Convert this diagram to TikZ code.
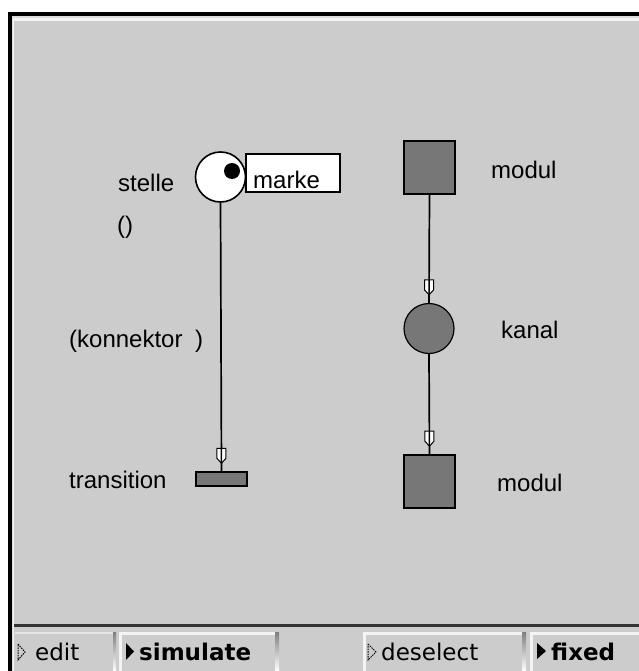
\documentclass[tikz,border=0pt]{standalone}
\usepackage{fontspec}
\setmainfont{Liberation Sans}
\newfontfamily\btnfont{DejaVu Sans}
\newfontfamily\btnboldfont{DejaVu Sans Bold}
\usetikzlibrary{decorations.markings}
\definecolor{panel}{HTML}{CCCCCC}
\definecolor{boxfill}{HTML}{777777}
\definecolor{hilite}{HTML}{F4F4F4}
\definecolor{edge}{HTML}{DCDCDC}
\definecolor{shade}{HTML}{222222}
\tikzset{
  lbl/.style={font=\fontsize{24}{24}\selectfont, inner sep=0pt, anchor=west},
  btnlbl/.style={font=\btnfont\fontsize{23}{23}\selectfont, inner sep=0pt, anchor=west},
  btnbold/.style={font=\btnboldfont\fontsize{23}{23}\selectfont, inner sep=0pt, anchor=west},
  opentri/.style={draw=black, line width=1pt, dash pattern=on 1.5pt off 1pt},
  filledtri/.style={fill=black},
  place/.style={circle, draw=black, line width=1.6pt, fill=white, minimum size=50pt, inner sep=0pt},
  channel/.style={circle, draw=black, line width=1.2pt, fill=boxfill, minimum size=50pt, inner sep=0pt},
  module/.style={rectangle, draw=black, line width=1.6pt, fill=boxfill, minimum width=51pt, minimum height=53pt, inner sep=0pt},
  trans/.style={rectangle, draw=black, line width=1.4pt, fill=boxfill, minimum width=51pt, minimum height=14pt, inner sep=0pt},
  conn/.style={draw=black, line width=1.7pt,
    postaction={decorate, decoration={markings,
      mark=at position -8pt with {
        \draw[black, line width=1pt, fill=white]
          (0,0) -- (-5,4.5) -- (-15,4.5) -- (-15,-4.5) -- (-5,-4.5) -- cycle;
        \draw[black, line width=1.5pt] (-15,0) -- (0,0);
      }}}},
}
\begin{document}
\begin{tikzpicture}[x=1pt, y=-1pt]
\useasboundingbox (0,0) rectangle (638,671);
% window frame
\fill[white] (0,0) rectangle (638,671);
\fill[black] (8,12) rectangle (642,675);
\fill[edge] (12,16) rectangle (642,675);
\fill[hilite] (13,18) rectangle (642,675);
\fill[panel] (14,21) rectangle (642,675);
% separator above the button bar
\fill[black!80] (14,624) rectangle (642,627);
% button bar
\fill[black!10] (15,632) rectangle (113,634);
\fill[shade] (113,632) rectangle (116,671);
\fill[hilite] (119,632) rectangle (277,635);
\fill[hilite] (119,632) rectangle (122,671);
\fill[shade] (275,632) rectangle (279,671);
\fill[hilite] (363,632) rectangle (523,635);
\fill[hilite] (363,632) rectangle (366,671);
\fill[shade] (522,632) rectangle (526,671);
\fill[hilite] (530,632) rectangle (642,635);
\fill[hilite] (530,632) rectangle (533,671);
% button markers
\draw[opentri] (18,644) -- (25,652) -- (18,660) -- cycle;
\fill[filledtri] (126,643) -- (134,651.5) -- (126,660) -- cycle;
\draw[opentri] (368,644) -- (376,652) -- (368,660) -- cycle;
\fill[filledtri] (537,643) -- (546,651) -- (537,659) -- cycle;
% button labels
\node[btnlbl] (bedit) at (35,652) {edit};
\node[btnbold] (bsim) at (139,652) {simulate};
\node[btnlbl] (bdesel) at (381,652) {deselect};
\node[btnbold] (bfixed) at (551,652) {fixed};

% place with token and its marking label
\node[place] (stelle) at (220.5,177) {};
\node[circle, fill=black, minimum size=16pt, inner sep=0pt] (token) at (232,171) {};
\node[draw=black, line width=1.3pt, fill=white, minimum width=94pt, minimum height=38pt, inner sep=0pt] (markebox) at (293,173) {};
\node[lbl] (marke) at (253,180) {marke};
\node[lbl] (stellelbl) at (118,183) {stelle};
\node[lbl] (paren) at (117,227) {()};

% transition
\node[trans] (trans) at (221.5,479) {};
\node[lbl] (translbl) at (69,480) {transition};
\node[lbl] (konn) at (69,341) {(konnektor\hspace{6pt} )};
\draw[conn] (stelle.south) -- (trans.north);

% module - channel - module
\node[module] (mod1) at (429.5,167.5) {};
\node[lbl] (mod1lbl) at (491,170) {modul};
\node[channel] (kanal) at (429,328.5) {};
\node[lbl] (kanallbl) at (501,330) {kanal};
\node[module] (mod2) at (429.5,481.5) {};
\node[lbl] (mod2lbl) at (497,483) {modul};
\draw[conn] (mod1.south) -- (kanal.north);
\draw[conn] (kanal.south) -- (mod2.north);
\end{tikzpicture}
\end{document}
